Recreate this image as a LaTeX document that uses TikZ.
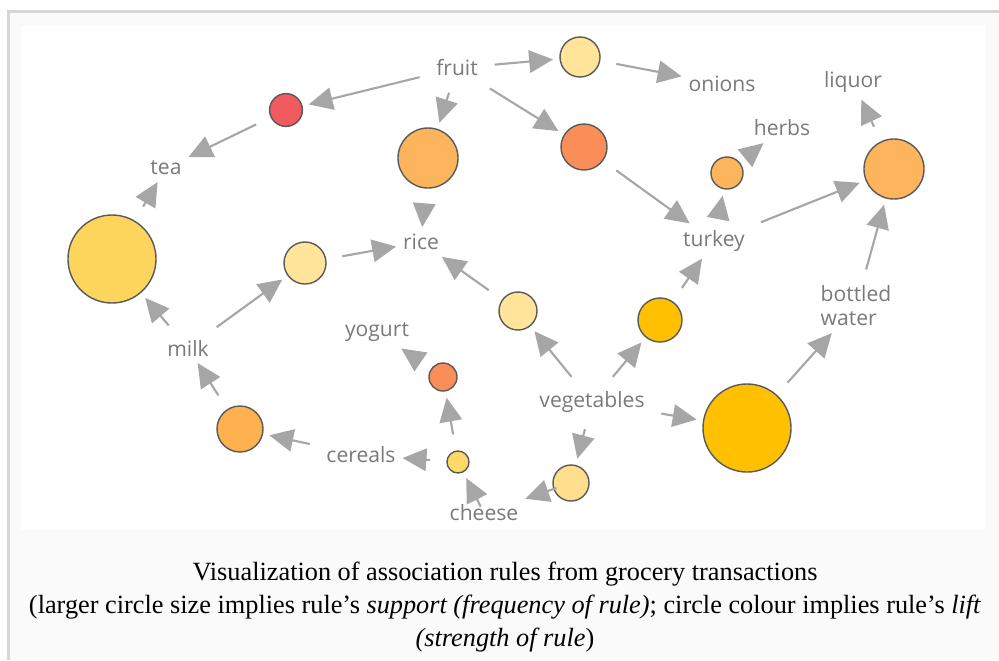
\documentclass[tikz,border=0pt]{standalone}
\usepackage{fontspec}
\setmainfont{Liberation Serif}
\newfontfamily\labelfont{Open Sans}
\usetikzlibrary{arrows.meta}
\definecolor{framegray}{RGB}{214,214,214}
\definecolor{panelgray}{RGB}{250,250,250}
\definecolor{linkgray}{RGB}{166,166,166}
\definecolor{textgray}{RGB}{122,122,122}
\definecolor{rimgray}{RGB}{90,90,90}
\definecolor{liftred}{RGB}{241,90,95}
\definecolor{liftyellow}{RGB}{253,212,92}
\definecolor{liftorange}{RGB}{252,181,92}
\definecolor{liftpale}{RGB}{255,228,154}
\definecolor{liftcoral}{RGB}{249,142,88}
\definecolor{liftgold}{RGB}{255,192,0}
\definecolor{liftlight}{RGB}{255,217,102}
\definecolor{liftcream}{RGB}{255,223,142}
\definecolor{liftamber}{RGB}{253,177,79}
\tikzset{
  item/.style={font=\labelfont\fontsize{15}{17}\selectfont, text=textgray,
    inner sep=2pt, outer sep=3pt},
  rulenode/.style={circle, draw=rimgray, line width=1pt, fill=#1,
    inner sep=0pt, outer sep=5pt},
  link/.style={draw=linkgray, line width=1.5pt,
    -{Triangle[length=17pt,width=16pt]}, shorten <=7pt},
}

\begin{document}
\begin{tikzpicture}[x=0.025cm, y=-0.025cm]
  \useasboundingbox (0,0) rectangle (999,660);
  % Frame and panels
  \fill[panelgray] (8,11) rectangle (999,660);
  \draw[framegray, line width=2.1pt] (8.5,660) -- (8.5,11.5) -- (999,11.5);
  \fill[white] (21,26) rectangle (985,530);

  % Items
  \foreach \n/\x/\y/\t in {
    fruit/457/68/fruit, tea/166/168/tea, rice/421/242/rice,
    milk/188/348/milk, yogurt/377/332/yogurt, cereals/361/455/cereals,
    cheese/484/513/cheese, veg/592/402/vegetables, onions/722/84/onions,
    liquor/853/82/liquor, herbs/782/128/herbs, turkey/714/241/turkey%
  }{
    \node[item] (\n) at (\x,\y) {\t};
  }
  \node[item, align=left] (water) at (856,306) {bottled\\water};

  % Rules: size = support, colour = lift
  \foreach \n/\x/\y/\d/\c in {
    fruittea/286/110/0.82/liftred,
    milktea/112/259/2.2/liftyellow,
    fruitrice/428/158/1.5/liftorange,
    milkrice/305/263/1.05/liftpale,
    fruitonions/580/57/1.0/liftpale,
    fruitturkey/584/147/1.15/liftcoral,
    turkeyherbs/727/173/0.8/liftorange,
    liquorrule/894/169/1.5/liftorange,
    vegturkey/660/320/1.1/liftgold,
    vegrice/518/311/0.95/liftpale,
    vegcheese/571/483/0.9/liftcream,
    vegwater/747/428/2.2/liftgold,
    cheeseyogurt/443/377/0.7/liftcoral,
    cheesecereals/458/462/0.55/liftlight,
    cerealsmilk/240/429/1.15/liftamber%
  }{
    \node[rulenode=\c, minimum size=\d cm] (\n) at (\x,\y) {};
  }

  % Links
  \foreach \a/\b in {
    fruit/fruittea, fruittea/tea, milk/milktea, milktea/tea,
    fruit/fruitrice, fruitrice/rice, milk/milkrice, milkrice/rice,
    fruit/fruitonions, fruitonions/onions, fruit/fruitturkey,
    fruitturkey/turkey, turkey/turkeyherbs, turkeyherbs/herbs,
    turkey/liquorrule, water/liquorrule, liquorrule/liquor,
    cerealsmilk/milk, cereals/cerealsmilk, cheesecereals/cereals,
    cheese/cheesecereals, cheesecereals/cheeseyogurt,
    cheeseyogurt/yogurt, veg/vegrice, vegrice/rice, veg/vegturkey,
    vegturkey/turkey, veg/vegwater, vegwater/water, veg/vegcheese,
    vegcheese/cheese%
  }{
    \draw[link] (\a) -- (\b);
  }

  % Caption
  \node[align=center, font=\fontsize{18.7}{23.5}\selectfont] (caption) at (505,607)
    {Visualization of association rules from grocery transactions\\
     (larger circle size implies rule’s \textit{support (frequency of rule)};
     circle colour implies rule’s \textit{lift}\\
     \textit{(strength of rule})};
\end{tikzpicture}
\end{document}
